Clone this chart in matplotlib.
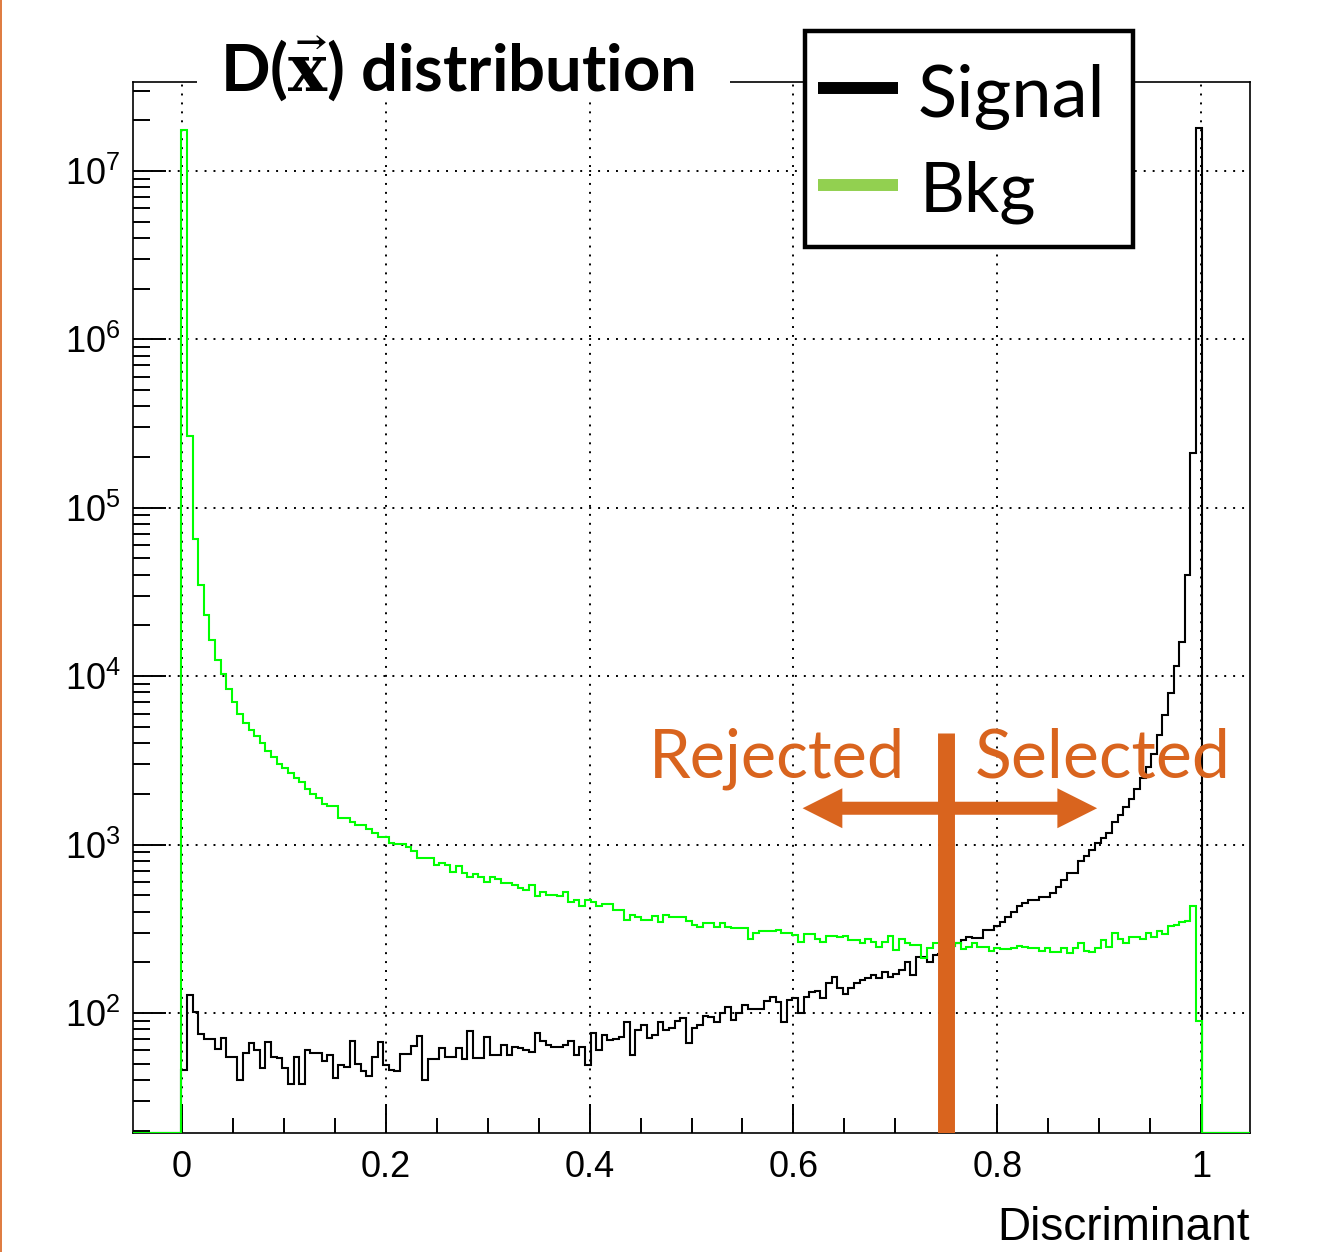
import numpy as np
import matplotlib.pyplot as plt
import matplotlib.transforms as mtransforms
from matplotlib.patches import Rectangle, Polygon
from matplotlib.lines import Line2D
from matplotlib.ticker import LogLocator, NullFormatter, FixedLocator, MultipleLocator

plt.rcParams['mathtext.default'] = 'regular'

# histogram binning: 200 bins on [-0.05, 1.05], only bins 9..190 are filled
nbins = 200
x_lo, x_hi = -0.05, 1.05
first_bin = 9

signal = [
    46, 128, 102, 75, 70, 70, 61, 71, 55, 55, 40, 58, 66, 60, 47, 67, 55, 54, 47, 38,
    55, 38, 60, 58, 58, 52, 56, 41, 49, 48, 68, 50, 45, 42, 55, 67, 49, 46, 45, 57,
    57, 64, 73, 40, 53, 53, 62, 55, 55,
    62, 53, 78, 54, 54, 72, 56, 56, 65, 56, 63, 62, 60, 59, 76, 68, 65, 63, 63, 65,
    68, 56, 63, 49, 76, 60, 74, 69, 70, 72, 88, 56, 79, 85, 71, 74, 89, 79, 82, 90,
    93, 66, 82, 85, 96, 95, 88, 100, 108, 91, 100, 111, 105, 105, 106, 118, 124, 117, 89, 119,
    122, 100, 125, 134, 136, 122, 150, 164, 140,
    130, 140, 150, 158, 162, 168, 161, 176, 164, 170, 180, 202, 168, 216, 216, 202, 221, 225, 240, 250,
    262, 271, 284, 278, 278, 311, 313, 330, 348, 370, 400, 430, 448, 468, 468, 490, 490, 514, 563, 617,
    675, 675, 794, 850, 932, 1023, 1100, 1178, 1355, 1500, 1680, 1860, 2130, 2470, 2890, 3440, 4470, 5870,
    7900, 11500, 16000, 40000, 210000, 18000000,
]

background = [
    17400000, 267000, 65000, 35000, 23000, 16300, 12500, 10300, 8400, 7000, 6000,
    5300, 4800, 4400, 4000, 3600, 3300, 3000, 2850, 2650, 2500,
    2360, 2150, 2010, 1880, 1750, 1690, 1690, 1430, 1430, 1366, 1305, 1305, 1230, 1175,
    1104, 1104, 1016, 1007, 1007, 970, 918, 835, 835, 835, 755, 773, 755, 690, 745,
    675, 645, 670, 645, 601, 640, 622, 593, 593, 575, 550, 537, 575, 495, 525, 502,
    502, 495, 525, 457, 468, 431, 468, 457, 431, 443, 443, 408, 408, 359, 382, 373,
    356, 356, 378, 348, 382, 373, 373, 373, 353, 333, 325, 341, 341, 325, 341, 325,
    318, 318, 318, 277, 297, 308, 308, 308, 311, 300, 300, 290,
    265, 294, 294, 274, 265, 286, 286, 281, 286, 271, 271, 259, 274, 265, 245, 265,
    286, 237, 277, 262, 253, 253, 211, 242, 262, 262, 250, 250, 262, 239, 247, 262,
    247, 247, 234, 242, 239, 239, 242, 250, 247, 242, 242, 234, 242, 231, 231, 242,
    226, 242, 259, 234, 231, 242, 271, 247, 300, 274, 259, 281, 284, 277, 300, 284,
    308, 294, 328, 333, 348, 353, 431, 90,
]

cut = 0.75
x_ticks = [0, 0.2, 0.4, 0.6, 0.8, 1.0]
x_tick_labels = ["0", "0.2", "0.4", "0.6", "0.8", "1"]
y_ticks = [1e2, 1e3, 1e4, 1e5, 1e6, 1e7]

orange = "#D9641E"
legend_green = "#92D050"
hist_green = "#00FF00"

y_min, y_max = 19.4, 3.37e7

edges = np.linspace(x_lo, x_hi, nbins + 1)
sig = np.zeros(nbins)
bkg = np.zeros(nbins)
sig[first_bin:first_bin + len(signal)] = signal
bkg[first_bin:first_bin + len(background)] = background
# empty bins sit on the bottom of the frame like in ROOT
sig = np.where(sig > 0, sig, y_min)
bkg = np.where(bkg > 0, bkg, y_min)

fig = plt.figure(figsize=(13.18, 12.52), dpi=100)
ax = fig.add_axes([133 / 1318, 1 - 1133 / 1252, 1117 / 1318, 1051 / 1252])

ax.stairs(sig, edges, color="black", lw=1.5, baseline=None, zorder=3)
ax.stairs(bkg, edges, color=hist_green, lw=1.5, baseline=None, zorder=3)

ax.set_yscale("log")
ax.set_xlim(-0.048, 1.048)
ax.set_ylim(y_min, y_max)

ax.xaxis.set_major_locator(FixedLocator(x_ticks))
ax.set_xticklabels(x_tick_labels)
ax.xaxis.set_minor_locator(MultipleLocator(0.05))
ax.yaxis.set_major_locator(FixedLocator(y_ticks))
ax.set_yticklabels([r"$10^{%d}$" % int(np.log10(v)) for v in y_ticks])
ax.yaxis.set_minor_locator(LogLocator(base=10, subs=np.arange(2, 10)))
ax.yaxis.set_minor_formatter(NullFormatter())

ax.tick_params(axis="both", which="both", direction="in", top=False, right=False,
               width=1.4, color="black")
ax.tick_params(axis="x", which="major", length=21, pad=12)
ax.tick_params(axis="x", which="minor", length=11)
ax.tick_params(axis="y", which="major", length=24, pad=9)
ax.tick_params(axis="y", which="minor", length=12)
for lab in ax.get_xticklabels() + ax.get_yticklabels():
    lab.set_fontfamily("Liberation Sans")
    lab.set_fontsize(26)

ax.grid(True, which="major", color="black", lw=1.4, linestyle=(0, (1, 3.6)))
for sp in ax.spines.values():
    sp.set_linewidth(1.2)

ax.text(1.0, -0.09, "Discriminant", transform=ax.transAxes, ha="right", va="center",
        family="Liberation Sans", size=33)

# cut marker with double arrow
ax.axvline(cut, ymin=0, ymax=0.381, color=orange, lw=12.2, solid_capstyle="butt", zorder=5)
blend = mtransforms.blended_transform_factory(ax.transData, ax.transAxes)
yc, half_shaft, half_head, head_len = 0.309, 0.0062, 0.019, 0.039
x_l, x_r = cut - 0.141, cut + 0.148
arrow = Polygon([
    (x_l, yc), (x_l + head_len, yc + half_head), (x_l + head_len, yc + half_shaft),
    (x_r - head_len, yc + half_shaft), (x_r - head_len, yc + half_head), (x_r, yc),
    (x_r - head_len, yc - half_head), (x_r - head_len, yc - half_shaft),
    (x_l + head_len, yc - half_shaft), (x_l + head_len, yc - half_head),
], closed=True, transform=blend, facecolor=orange, edgecolor="none", zorder=5)
ax.add_patch(arrow)
fig.text(905 / 1318, 1 - 778 / 1252, "Rejected", ha="right", va="baseline",
         family="Lato", size=48, color=orange, zorder=6)
fig.text(975 / 1318, 1 - 778 / 1252, "Selected", ha="left", va="baseline",
         family="Lato", size=49, color=orange, zorder=6)

# title pave covering the top frame
fig.patches.append(Rectangle((197 / 1318, 1 - 102 / 1252), 533 / 1318, 62 / 1252,
                             transform=fig.transFigure, facecolor="white",
                             edgecolor="none", zorder=5))
fig.text(220 / 1318, 1 - 92 / 1252, r"D($\vec{\mathbf{x}}$) distribution",
         ha="left", va="baseline", family="Lato", weight="bold", size=47,
         math_fontfamily="dejavuserif", zorder=6)

# legend box
fig.patches.append(Rectangle((805 / 1318, 1 - 247 / 1252), 328 / 1318, 216 / 1252,
                             transform=fig.transFigure, facecolor="white",
                             edgecolor="black", lw=3.2, zorder=5))
fig.add_artist(Line2D([818 / 1318, 898 / 1318], [1 - 88 / 1252] * 2, color="black",
                      lw=8.6, solid_capstyle="butt", zorder=6))
fig.add_artist(Line2D([818 / 1318, 898 / 1318], [1 - 185 / 1252] * 2, color=legend_green,
                      lw=8.6, solid_capstyle="butt", zorder=6))
fig.text(918 / 1318, 1 - 117 / 1252, "Signal", ha="left", va="baseline",
         family="Lato", size=52, zorder=7)
fig.text(920 / 1318, 1 - 212 / 1252, "Bkg", ha="left", va="baseline",
         family="Lato", size=50, zorder=7)

# slide border on the left edge
fig.add_artist(Line2D([0.0006, 0.0006], [0, 1], color=orange, lw=1.2))

fig.savefig("out.png", dpi=100)
